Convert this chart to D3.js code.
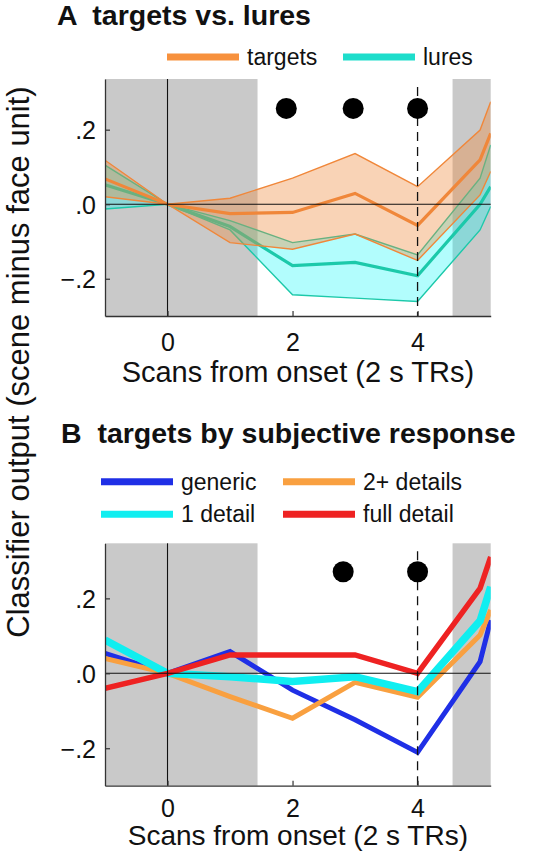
<!DOCTYPE html>
<html>
<head>
<meta charset="utf-8">
<script src="https://cdn.jsdelivr.net/npm/d3@7"></script>
<style>
  html, body { margin: 0; padding: 0; background: #fff; }
  svg { display: block; font-family: "Liberation Sans", Arial, Helvetica, sans-serif; }
</style>
</head>
<body>
<svg id="chart" width="542" height="852"></svg>
<script>
// ---------- data ----------
const scans = [-1, 0, 1, 2, 3, 4, 5, 5.17];      // scan index (last = right edge of axis)
const xTicks = [0, 2, 4];
const yTicks = [-0.2, 0, 0.2];
const grayBands = [[-1, 1.44], [4.56, 5.17]];

// Panel A
const targetsMean  = [0.068, 0, -0.025, -0.022, 0.029, -0.057, 0.119, 0.190];
const targetsUpper = [0.118, 0, 0.016, 0.070, 0.136, 0.047, 0.199, 0.275];
const targetsLower = [0.020, 0, -0.103, -0.121, -0.080, -0.151, 0.025, 0.088];
const luresMean    = [0.052, 0, -0.060, -0.165, -0.156, -0.192, 0.000, 0.047];
const luresUpper   = [0.105, 0, -0.044, -0.103, -0.080, -0.136, 0.070, 0.159];
const luresLower   = [-0.013, 0, -0.069, -0.243, -0.252, -0.261, -0.069, -0.006];
const dotsAx = [1.9, 2.97, 4.0];
const dotsAy = 0.257;

// Panel B
const genericVals    = [0.053, 0, 0.058, -0.045, -0.124, -0.211, 0.031, 0.142];
const oneDetailVals  = [0.089, 0, -0.009, -0.022, -0.009, -0.049, 0.140, 0.231];
const twoPlusVals    = [0.040, 0, -0.062, -0.120, -0.024, -0.064, 0.102, 0.169];
const fullDetailVals = [-0.040, 0, 0.049, 0.049, 0.049, 0.000, 0.227, 0.311];
const dotsBx = [2.81, 4.0];
const dotsBy = 0.271;

const legendA = ["targets", "lures"];
const legendB = ["generic", "2+ details", "1 detail", "full detail"];

// ---------- layout ----------
const svg = d3.select("#chart");
const FONT = '"Liberation Sans", Arial, Helvetica, sans-serif';
const xLeft = 105, xRight = 490.7;
const x = d3.scaleLinear().domain([-1, 5.17]).range([xLeft, xRight]);

const panels = [
  { id: "A", top: 79, bottom: 316, ymax: 0.336, tickOff: 34.7, titleOff: 65.7, titleSize: 29 },
  { id: "B", top: 543.3, bottom: 785.7, ymax: 0.347, tickOff: 31.3, titleOff: 59, titleSize: 28 }
];

function fmtY(d) {
  if (d === 0) return ".0";
  return (d < 0 ? "\u2212" : "") + "." + Math.round(Math.abs(d) * 10);
}

function drawFrame(p) {
  const g = svg.append("g");
  g.append("clipPath").attr("id", "clip" + p.id)
    .append("rect").attr("x", xLeft).attr("y", p.top)
    .attr("width", xRight - xLeft).attr("height", p.bottom - p.top);
  g.selectAll("rect.band").data(grayBands).join("rect")
    .attr("class", "band")
    .attr("x", d => x(d[0])).attr("width", d => x(d[1]) - x(d[0]))
    .attr("y", p.top).attr("height", p.bottom - p.top)
    .attr("fill", "#c9c9c9");
  return g;
}

function drawOverlay(p, y, dotsX, dotsY) {
  const g = svg.append("g");
  g.append("line").attr("x1", xLeft).attr("x2", xRight)
    .attr("y1", y(0)).attr("y2", y(0)).attr("stroke", "#111").attr("stroke-width", 1.1);
  g.append("line").attr("x1", x(0)).attr("x2", x(0))
    .attr("y1", p.top).attr("y2", p.bottom).attr("stroke", "#111").attr("stroke-width", 1.1);
  g.append("line").attr("x1", x(4)).attr("x2", x(4))
    .attr("y1", p.top + 8).attr("y2", p.bottom)
    .attr("stroke", "#111").attr("stroke-width", 1.3).attr("stroke-dasharray", "9,6");
  g.selectAll("circle").data(dotsX).join("circle")
    .attr("cx", d => x(d)).attr("cy", y(dotsY)).attr("r", 10.5).attr("fill", "#000");

  const ax = g.append("g").attr("transform", `translate(0,${p.bottom})`)
    .call(d3.axisBottom(x).tickValues(xTicks).tickSizeInner(-5).tickSizeOuter(0).tickFormat(d3.format("d")));
  ax.select(".domain").attr("stroke", "#333").attr("stroke-width", 1.3);
  ax.selectAll(".tick line").attr("stroke", "#333").attr("stroke-width", 1.2);
  ax.selectAll(".tick text").attr("y", 0).attr("dy", p.tickOff).attr("font-size", 25)
    .attr("font-family", FONT).attr("fill", "#111");

  const ay = g.append("g").attr("transform", `translate(${xLeft},0)`)
    .call(d3.axisLeft(y).tickValues(yTicks).tickSizeInner(-5).tickSizeOuter(0).tickFormat(fmtY));
  ay.select(".domain").attr("stroke", "#333").attr("stroke-width", 1.3);
  ay.selectAll(".tick line").attr("stroke", "#333").attr("stroke-width", 1.2);
  ay.selectAll(".tick text").attr("x", -9).attr("dy", "0.36em").attr("font-size", 25)
    .attr("font-family", FONT).attr("fill", "#111");

  g.append("text").attr("x", (xLeft + xRight) / 2).attr("y", p.bottom + p.titleOff)
    .attr("text-anchor", "middle").attr("font-size", p.titleSize).attr("fill", "#111")
    .text("Scans from onset (2 s TRs)");
}

// ---------- Panel A ----------
const pA = panels[0];
const yA = d3.scaleLinear().domain([-0.3, pA.ymax]).range([pA.bottom, pA.top]);
drawFrame(pA);
const gA = svg.append("g").attr("clip-path", "url(#clipA)");
const lineA = vals => d3.line().x((d, i) => x(scans[i])).y(d => yA(d))(vals);
const areaA = (lo, hi) => d3.area().x((d, i) => x(scans[i])).y0((d, i) => yA(lo[i])).y1((d, i) => yA(hi[i]))(scans);

const lureLine = "#1cc9aa", lureFill = "rgba(0,250,250,0.30)";
const tgtLine = "#f0873a", tgtFill = "rgba(240,135,58,0.37)";

gA.append("path").attr("d", areaA(luresLower, luresUpper)).attr("fill", lureFill);
gA.append("path").attr("d", lineA(luresUpper)).attr("fill", "none").attr("stroke", lureLine).attr("stroke-width", 1.4);
gA.append("path").attr("d", lineA(luresLower)).attr("fill", "none").attr("stroke", lureLine).attr("stroke-width", 1.4);
gA.append("path").attr("d", lineA(luresMean)).attr("fill", "none").attr("stroke", lureLine).attr("stroke-width", 3.2);
gA.append("path").attr("d", areaA(targetsLower, targetsUpper)).attr("fill", tgtFill);
gA.append("path").attr("d", lineA(targetsUpper)).attr("fill", "none").attr("stroke", tgtLine).attr("stroke-width", 1.4);
gA.append("path").attr("d", lineA(targetsLower)).attr("fill", "none").attr("stroke", tgtLine).attr("stroke-width", 1.4);
gA.append("path").attr("d", lineA(targetsMean)).attr("fill", "none").attr("stroke", tgtLine).attr("stroke-width", 3.2);
drawOverlay(pA, yA, dotsAx, dotsAy);

// ---------- Panel B ----------
const pB = panels[1];
const yB = d3.scaleLinear().domain([-0.3, pB.ymax]).range([pB.bottom, pB.top]);
drawFrame(pB);
const gB = svg.append("g").attr("clip-path", "url(#clipB)");
const lineB = vals => d3.line().x((d, i) => x(scans[i])).y(d => yB(d))(vals);
const seriesB = [
  { name: "generic", vals: genericVals, color: "#1f2fe6", w: 5 },
  { name: "2+ details", vals: twoPlusVals, color: "#f9a040", w: 5 },
  { name: "1 detail", vals: oneDetailVals, color: "#10eef0", w: 7.5 },
  { name: "full detail", vals: fullDetailVals, color: "#ee2222", w: 5.5 }
];
seriesB.forEach(s => {
  gB.append("path").attr("d", lineB(s.vals)).attr("fill", "none")
    .attr("stroke", s.color).attr("stroke-width", s.w).attr("stroke-linejoin", "miter");
});
drawOverlay(pB, yB, dotsBx, dotsBy);

// ---------- titles ----------
svg.append("text").attr("x", 57).attr("y", 25).attr("font-size", 28.5).attr("font-weight", "bold")
  .attr("fill", "#111").attr("xml:space", "preserve").text("A  targets vs. lures");
svg.append("text").attr("x", 61).attr("y", 443).attr("font-size", 28.5).attr("font-weight", "bold")
  .attr("fill", "#111").attr("xml:space", "preserve").text("B  targets by subjective response");

// ---------- legends ----------
const legA = [
  { label: legendA[0], color: "#f7913d", x0: 167 },
  { label: legendA[1], color: "#1eddcb", x0: 343 }
];
legA.forEach(l => {
  svg.append("line").attr("x1", l.x0).attr("x2", l.x0 + 72).attr("y1", 57).attr("y2", 57)
    .attr("stroke", l.color).attr("stroke-width", 7);
  svg.append("text").attr("x", l.x0 + 80).attr("y", 65).attr("font-size", 23).attr("fill", "#111").text(l.label);
});
const legBpos = [
  { x0: 101, y0: 481.7 }, { x0: 283, y0: 481.7 }, { x0: 101, y0: 514.3 }, { x0: 283, y0: 514.3 }
];
const legBcolors = { "generic": "#1f2fe6", "2+ details": "#f9a040", "1 detail": "#10eef0", "full detail": "#ee2222" };
legendB.forEach((name, i) => {
  const p = legBpos[i];
  svg.append("line").attr("x1", p.x0).attr("x2", p.x0 + 72).attr("y1", p.y0).attr("y2", p.y0)
    .attr("stroke", legBcolors[name]).attr("stroke-width", 7);
  svg.append("text").attr("x", p.x0 + 80).attr("y", p.y0 + 8).attr("font-size", 23).attr("fill", "#111").text(name);
});

// ---------- y label ----------
svg.append("text").attr("transform", "translate(29,362) rotate(-90)")
  .attr("text-anchor", "middle").attr("font-size", 31).attr("fill", "#111")
  .text("Classifier output (scene minus face unit)");
</script>
</body>
</html>
